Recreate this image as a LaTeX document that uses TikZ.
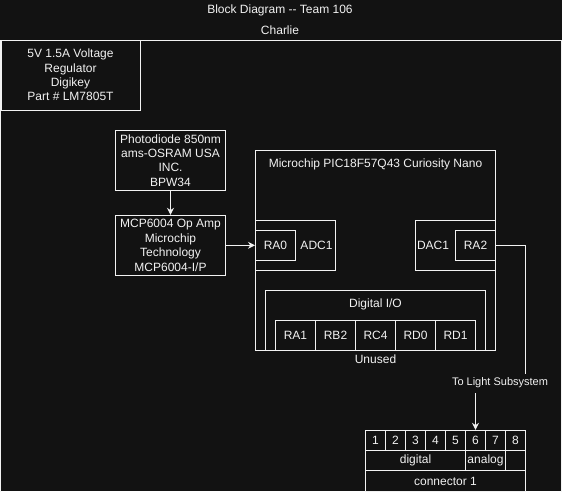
\documentclass[tikz,border=0pt]{standalone}
\usepackage{fontspec}
\setmainfont{Liberation Sans}
\usetikzlibrary{arrows.meta}
\definecolor{bgdark}{HTML}{121212}
\definecolor{ink}{HTML}{F2F2F2}

\begin{document}
\begin{tikzpicture}[x=1pt,y=-1pt,
        every node/.style={font=\fontsize{12}{14.4}\selectfont, text=ink},
        block/.style={draw=ink, line width=1pt, inner sep=0pt, align=center},
        txt/.style={inner sep=0pt, align=center},
        wire/.style={draw=ink, line width=1pt},
        >={Stealth[length=7pt,width=7pt]}]
            \fill[bgdark] (0,0) rectangle (562,491);
            \clip (0,0) rectangle (562,491);
            % title
            \node[txt](title) at (280,10) {Block Diagram {-}{-} Team 106};
            \node[txt](team)  at (280,30) {Charlie};
            \node[block, minimum width=560.5pt, minimum height=470pt](frame) at (280.75,275) {};
            % power and front end
            \node[block, minimum width=139pt, minimum height=70pt](reg)   at (70.5,75)     {5V 1.5A Voltage\\Regulator\\Digikey\\Part \# LM7805T};
            \node[block, minimum width=110pt, minimum height=60pt](diode) at (170.5,160.5) {Photodiode 850nm\\ams-OSRAM USA\\INC.\\BPW34};
            \node[block, minimum width=110pt, minimum height=60pt](opamp) at (170.5,245.3) {MCP6004 Op Amp\\Microchip\\Technology\\MCP6004-I/P};
            % microcontroller
            \node[block, minimum width=240pt, minimum height=200pt](mcu) at (375.5,250.3) {};
            \node[txt](mcutitle) at (375.5,164) {Microchip PIC18F57Q43 Curiosity Nano};
            \node[block, minimum width=80pt, minimum height=50pt](adc) at (295.5,245.3) {};
            \node[txt](adclbl) at (316.5,245.3) {ADC1};
            \node[block, minimum width=40pt, minimum height=30pt](ra0) at (275.5,245.3) {RA0};
            \node[block, minimum width=80pt, minimum height=50pt](dac) at (455.5,245.3) {};
            \node[txt](daclbl) at (433,245.3) {DAC1};
            \node[block, minimum width=40pt, minimum height=30pt](ra2) at (475.5,245.3) {RA2};
            \node[block, minimum width=220pt, minimum height=60pt](dio) at (375.5,320.3) {};
            \node[txt](diolbl) at (375.5,304) {Digital I/O};
            \node[block, minimum width=40pt, minimum height=30pt](ra1) at (295.5,335.3) {RA1};
            \node[block, minimum width=40pt, minimum height=30pt](rb2) at (335.5,335.3) {RB2};
            \node[block, minimum width=40pt, minimum height=30pt](rc4) at (375.5,335.3) {RC4};
            \node[block, minimum width=40pt, minimum height=30pt](rd0) at (415.5,335.3) {RD0};
            \node[block, minimum width=40pt, minimum height=30pt](rd1) at (455.5,335.3) {RD1};
            \node[txt](unused) at (375.5,359.5) {Unused};
            % connector
            \node[block, minimum size=20pt](c1) at (375.5,440.3) {1};
            \node[block, minimum size=20pt](c2) at (395.5,440.3) {2};
            \node[block, minimum size=20pt](c3) at (415.5,440.3) {3};
            \node[block, minimum size=20pt](c4) at (435.5,440.3) {4};
            \node[block, minimum size=20pt](c5) at (455.5,440.3) {5};
            \node[block, minimum size=20pt](c6) at (475.5,440.3) {6};
            \node[block, minimum size=20pt](c7) at (495.5,440.3) {7};
            \node[block, minimum size=20pt](c8) at (515.5,440.3) {8};
            \node[block, minimum width=100pt, minimum height=20pt](digital) at (415.5,460.3) {digital};
            \node[block, minimum width=40pt,  minimum height=20pt](analog)  at (485.5,460.3) {analog};
            \node[block, minimum size=20pt](spare) at (515.5,460.3) {};
            \node[block, minimum width=160pt, minimum height=21.4pt](conn) at (445.5,481) {connector 1};
            % signal path
            \coordinate (bend) at (525.5,383);
            \draw[wire,->] (diode) -- (opamp);
            \draw[wire,->] (opamp.east) -- (ra0.west);
            \draw[wire,->] (ra2.east) -| (bend) -| (c6.north);
            \node[txt, fill=bgdark, font=\fontsize{11}{13}\selectfont, inner xsep=1pt, minimum height=19pt](lightlbl) at (500,383) {To Light Subsystem};
        \end{tikzpicture}
\end{document}
